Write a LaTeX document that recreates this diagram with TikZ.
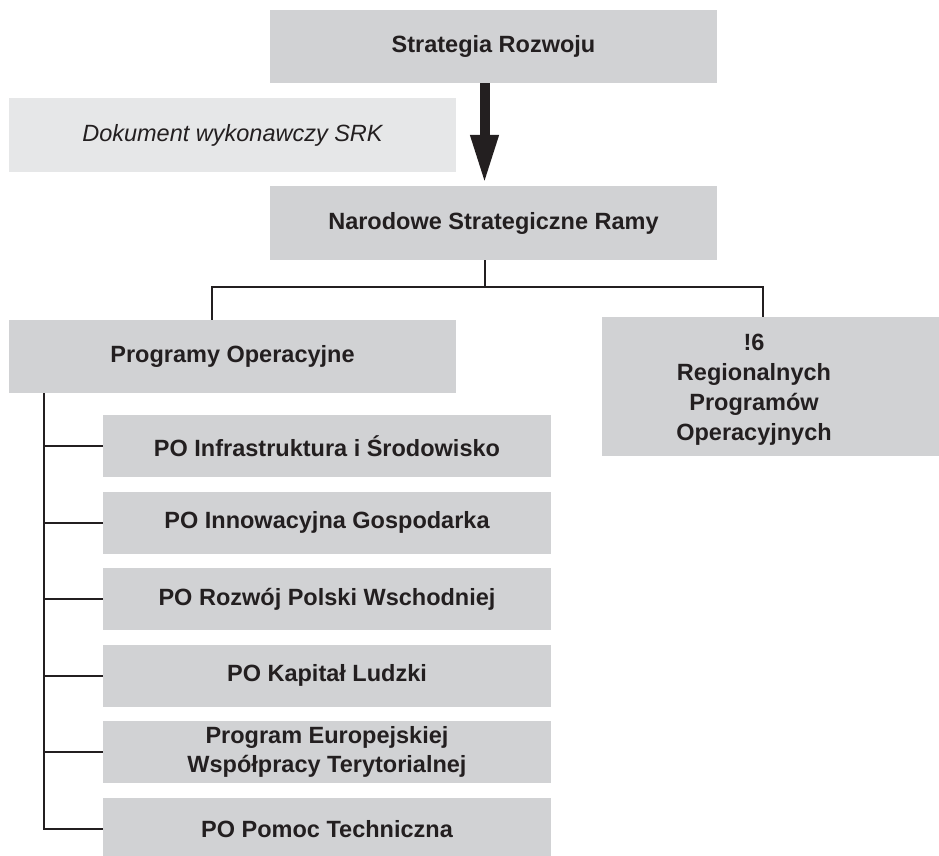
\documentclass[tikz,border=0pt]{standalone}
\usepackage{fontspec}
\setmainfont{Liberation Sans}
\usetikzlibrary{positioning}
\usetikzlibrary{arrows.meta}
\definecolor{szary}{HTML}{D1D2D4}
\definecolor{jasny}{HTML}{E6E7E8}
\definecolor{tekst}{HTML}{231F20}
\tikzset{%
    pole/.style={fill=szary,text=tekst,inner sep=0pt,align=center,font=\fontsize{23.5}{29}\selectfont\bfseries},
    polejasne/.style={pole,fill=jasny,font=\fontsize{23.5}{29}\selectfont\itshape},
    podpole/.style={pole,minimum width=448pt,minimum height=62pt},
    lacznik/.style={draw=tekst,line width=2pt},
    strzalka/.style={draw=tekst,line width=10pt,-{Triangle[length=49pt,width=26pt]}},
}

\begin{document}
\begin{tikzpicture}[x=1pt,y=-1pt]
            \useasboundingbox (0,0) rectangle (939,855);

            %gora
            \node[pole,minimum width=447pt,minimum height=73pt] (sr) at (493.5,46.5) {Strategia Rozwoju};
            \node[polejasne,minimum width=447pt,minimum height=74pt] (dok) at (232.5,135) {Dokument wykonawczy SRK};
            \node[pole,minimum width=447pt,minimum height=74pt] (nsr) at (493.5,223) {Narodowe Strategiczne Ramy};
            \draw[strzalka] ([xshift=-9pt]sr.south) -- ([xshift=-9pt,yshift=2pt]nsr.north);

            %programy
            \node[pole,minimum width=447pt,minimum height=73pt] (po) at (232.5,356.5) {Programy Operacyjne};
            \node[pole,minimum width=337pt,minimum height=139pt] (rpo) at (770.5,386.5) {};
            \node[font=\fontsize{23.5}{30}\selectfont\bfseries,text=tekst,align=center] (rpotxt) at (754,390) {!6\\Regionalnych\\Programów\\Operacyjnych};

            \draw[lacznik] ([xshift=-8.5pt]nsr.south) -- ++(0,27) coordinate (rozgal);
            \draw[lacznik] ([xshift=-20.5pt]po.north) |- (rozgal) -| ([xshift=-7.5pt]rpo.north);

            %po krajowe
            \node[podpole] (s1) at (327,446) {PO Infrastruktura i Środowisko};
            \node[podpole] (s2) at (327,522.6) {PO Innowacyjna Gospodarka};
            \node[podpole] (s3) at (327,599.2) {PO Rozwój Polski Wschodniej};
            \node[podpole] (s4) at (327,675.8) {PO Kapitał Ludzki};
            \node[podpole] (s5) at (327,752.4) {Program Europejskiej\\Współpracy Terytorialnej};
            \node[podpole] (s6) at (327,829) {PO Pomoc Techniczna};

            \coordinate (pien) at ([xshift=35pt]po.south west);
            \draw[lacznik] (pien) |- (s6.west);
            \draw[lacznik] (pien |- s1.west) -- (s1.west);
            \draw[lacznik] (pien |- s2.west) -- (s2.west);
            \draw[lacznik] (pien |- s3.west) -- (s3.west);
            \draw[lacznik] (pien |- s4.west) -- (s4.west);
            \draw[lacznik] (pien |- s5.west) -- (s5.west);
\end{tikzpicture}
\end{document}
